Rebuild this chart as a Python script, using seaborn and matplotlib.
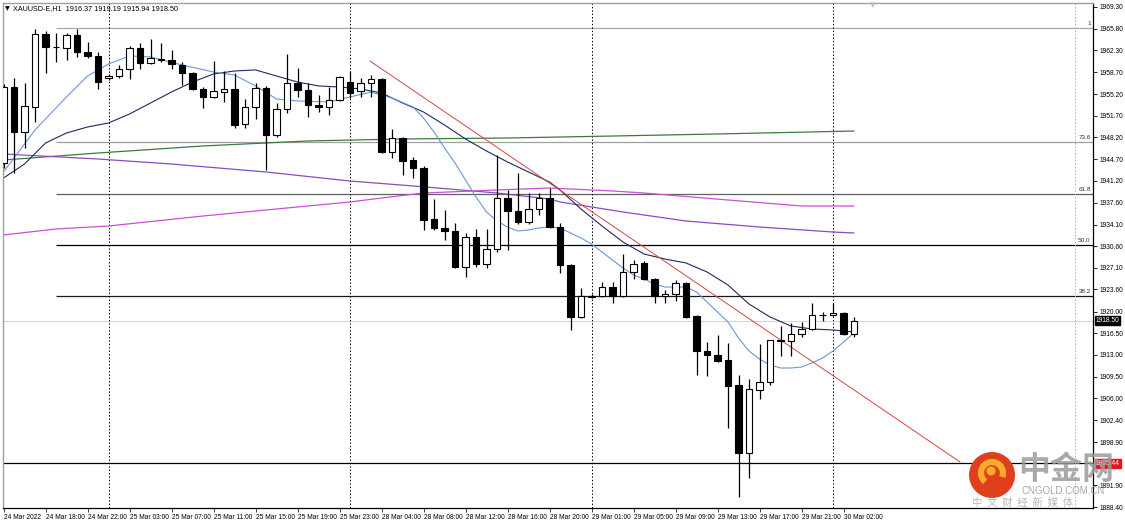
import numpy as np
import pandas as pd
import matplotlib
matplotlib.use("Agg")
import matplotlib.pyplot as plt
import seaborn as sns
from matplotlib.patches import Ellipse, Arc

# ---------------- data ----------------
bar_idx = list(range(-1, 81))
opens = [1944.06, 1956.35, 1949.07, 1953.12, 1964.93, 1962.83, 1962.66, 1964.77, 1962.02, 1961.37,
         1957.81, 1958.13, 1959.27, 1962.66, 1960.24, 1960.88, 1960.72, 1959.91, 1958.62, 1956.03,
         1954.74, 1955.54, 1956.03, 1950.37, 1953.12, 1956.19, 1948.59, 1952.79, 1957.00, 1955.87,
         1953.44, 1953.12, 1954.25, 1957.16, 1955.71, 1957.00, 1957.65, 1945.84, 1948.10, 1944.54,
         1943.25, 1935.00, 1933.54, 1933.05, 1927.23, 1932.08, 1927.71, 1930.14, 1938.39, 1936.29,
         1934.51, 1936.61, 1938.39, 1933.70, 1927.55, 1919.14, 1922.38, 1922.54, 1923.99, 1922.54,
         1926.42, 1927.88, 1925.29, 1922.54, 1922.86, 1924.64, 1919.30, 1913.64, 1912.99, 1912.18,
         1908.14, 1897.13, 1907.33, 1908.62, 1915.42, 1915.26, 1916.39, 1917.20, 1919.46, 1919.46,
         1919.79, 1916.37]
highs = [1956.84, 1957.81, 1957.00, 1965.74, 1965.41, 1965.09, 1965.09, 1965.74, 1963.63, 1962.02,
         1958.46, 1959.91, 1962.99, 1963.47, 1964.12, 1963.47, 1962.34, 1960.40, 1958.78, 1956.35,
         1960.56, 1958.94, 1958.62, 1954.41, 1957.00, 1956.52, 1953.76, 1961.69, 1959.43, 1957.00,
         1955.06, 1956.35, 1958.13, 1958.94, 1957.81, 1958.29, 1957.75, 1949.56, 1948.30, 1945.03,
         1943.57, 1938.23, 1936.45, 1934.35, 1932.73, 1933.38, 1933.38, 1945.35, 1939.69, 1942.44,
         1939.20, 1939.20, 1940.01, 1934.35, 1927.71, 1923.83, 1922.86, 1924.80, 1924.80, 1929.33,
         1928.36, 1928.20, 1925.45, 1923.51, 1925.13, 1924.80, 1919.46, 1915.09, 1916.23, 1914.93,
         1909.75, 1909.11, 1914.77, 1915.42, 1917.68, 1918.17, 1918.33, 1921.40, 1919.95, 1921.40,
         1919.95, 1919.19]
lows = [1943.25, 1942.44, 1946.48, 1950.69, 1958.62, 1960.40, 1960.72, 1961.21, 1961.05, 1956.03,
        1957.49, 1957.81, 1957.65, 1959.27, 1960.00, 1960.40, 1959.27, 1956.68, 1955.87, 1952.96,
        1954.60, 1953.93, 1949.72, 1949.72, 1951.18, 1942.92, 1948.26, 1952.15, 1954.74, 1951.50,
        1952.31, 1951.82, 1954.09, 1954.57, 1954.74, 1954.74, 1945.70, 1944.87, 1942.11, 1941.63,
        1933.22, 1933.22, 1931.60, 1927.07, 1925.61, 1927.23, 1927.07, 1929.66, 1929.98, 1934.19,
        1934.19, 1935.64, 1933.54, 1926.26, 1917.04, 1918.98, 1922.21, 1922.38, 1921.40, 1922.38,
        1925.29, 1925.13, 1921.40, 1921.40, 1921.73, 1918.98, 1909.75, 1909.59, 1911.86, 1901.18,
        1890.02, 1893.09, 1905.87, 1908.14, 1912.83, 1912.83, 1915.90, 1917.04, 1918.49, 1919.30,
        1916.23, 1915.94]
closes = [1956.35, 1949.07, 1953.28, 1964.93, 1962.83, 1962.75, 1964.77, 1962.02, 1961.37, 1957.16,
          1958.13, 1959.27, 1962.66, 1960.24, 1961.05, 1960.72, 1960.07, 1958.62, 1956.03, 1954.74,
          1955.71, 1956.03, 1950.20, 1953.12, 1956.19, 1948.59, 1952.79, 1957.00, 1955.87, 1953.44,
          1953.12, 1954.25, 1957.97, 1955.38, 1957.00, 1957.65, 1945.84, 1948.10, 1944.38, 1943.25,
          1934.83, 1933.54, 1933.05, 1927.23, 1932.08, 1927.71, 1930.14, 1938.39, 1936.29, 1934.51,
          1936.61, 1938.39, 1933.70, 1927.55, 1919.14, 1922.54, 1922.54, 1923.99, 1922.54, 1926.42,
          1927.71, 1925.29, 1922.54, 1922.86, 1924.64, 1919.14, 1913.64, 1912.99, 1912.02, 1907.98,
          1897.13, 1907.49, 1908.62, 1915.42, 1915.30, 1916.39, 1917.20, 1919.46, 1919.40, 1919.79,
          1916.39, 1918.50]

# moving averages (bar index, price)
fast_idx = [-1, 2, 5, 7, 9, 11, 13, 16, 19, 21, 23, 25, 27, 30, 32, 34, 36, 38, 39, 40,
            41, 42, 43, 44, 45, 46, 47, 48, 49, 50, 51, 52, 53, 54, 55, 56, 57, 58, 59, 60,
            61, 62, 63, 64, 65, 66, 67, 68, 69, 70, 71, 72, 73, 74, 75, 76, 77, 78, 79, 80]
fast_ma = [1942.60, 1949.40, 1954.74, 1958.13, 1960.07, 1961.37, 1961.21, 1959.91, 1958.78, 1958.29,
           1956.52, 1954.41, 1954.09, 1953.93, 1954.74, 1955.54, 1954.57, 1953.12, 1951.34, 1949.07,
           1946.48, 1944.06, 1941.31, 1938.56, 1936.13, 1934.67, 1933.70, 1933.05, 1933.22, 1933.54,
           1933.70, 1933.54, 1932.73, 1931.92, 1930.95, 1929.66, 1928.36, 1927.07, 1925.93, 1925.29,
           1924.48, 1923.99, 1923.99, 1923.99, 1923.18, 1921.57, 1919.95, 1918.33, 1915.74, 1913.64,
           1912.34, 1911.37, 1910.89, 1910.89, 1911.05, 1911.70, 1912.51, 1913.64, 1915.09, 1916.55]
slow_idx = [-1, 1, 3, 5, 7, 9, 11, 13, 15, 17, 19, 21, 23, 25, 27, 29, 31, 33, 35, 37,
            39, 41, 43, 45, 47, 49, 51, 52, 54, 56, 58, 60, 62, 64, 66, 68, 70, 72, 74, 76, 78, 80]
slow_ma = [1941.63, 1943.89, 1947.29, 1948.91, 1949.88, 1950.53, 1951.98, 1953.76, 1955.54, 1957.16,
           1958.46, 1958.94, 1959.11, 1958.13, 1957.16, 1956.52, 1956.35, 1956.03, 1955.38, 1953.76,
           1952.31, 1950.20, 1947.94, 1945.99, 1944.22, 1942.60, 1940.98, 1939.69, 1936.61, 1933.86,
           1931.27, 1929.33, 1928.52, 1927.88, 1926.42, 1924.32, 1921.24, 1919.14, 1917.68, 1917.20,
           1917.04, 1916.71]
green_idx = [-1, 8, 18, 28, 37, 47, 57, 67, 80]
green_ma = [1944.54, 1945.67, 1946.81, 1947.62, 1947.94, 1948.10, 1948.42, 1948.75, 1949.23]
purple_idx = [-1, 8, 15, 24, 32, 38, 46, 51, 52, 58, 64, 71, 78, 80]
purple_ma = [1945.51, 1944.70, 1943.89, 1942.60, 1941.14, 1940.34, 1939.20, 1938.23, 1937.75,
             1936.13, 1934.67, 1933.70, 1932.89, 1932.73]
magenta_idx = [-1, 4, 9, 18, 27, 32, 35, 39, 46, 51, 57, 60, 68, 75, 80]
magenta_ma = [1932.41, 1933.38, 1933.86, 1935.48, 1936.94, 1937.75, 1938.39, 1939.20, 1939.69,
              1940.01, 1939.53, 1939.20, 1938.07, 1937.10, 1937.10]

trend_idx = [33.9, 90.1]
trend_price = [1960.56, 1895.68]

fib_labels = ["1", "73.6", "61.8", "50.0", "38.2"]
fib_prices = [1965.90, 1947.45, 1939.04, 1930.79, 1922.54]
fib_start = 4
zero_level = 1895.44
bid_price = 1918.50

separator_idx = [9, 32, 55, 78]
future_separator_idx = 101

price_ticks = [1969.30, 1965.80, 1962.30, 1958.70, 1955.20, 1951.70, 1948.20, 1944.70, 1941.20,
               1937.60, 1934.10, 1930.60, 1927.10, 1923.60, 1920.00, 1916.50, 1913.00, 1909.50,
               1906.00, 1902.40, 1898.90, 1891.90, 1888.40]
time_tick_idx = [-1, 3, 7, 11, 15, 19, 23, 27, 31, 35, 39, 43, 47, 51, 55, 59, 63, 67, 71, 75, 79]
time_labels = ["24 Mar 2022", "24 Mar 18:00", "24 Mar 22:00", "25 Mar 03:00", "25 Mar 07:00",
               "25 Mar 11:00", "25 Mar 15:00", "25 Mar 19:00", "25 Mar 23:00", "28 Mar 04:00",
               "28 Mar 08:00", "28 Mar 12:00", "28 Mar 16:00", "28 Mar 20:00", "29 Mar 01:00",
               "29 Mar 05:00", "29 Mar 09:00", "29 Mar 13:00", "29 Mar 17:00", "29 Mar 21:00",
               "30 Mar 02:00"]
header = "XAUUSD-E,H1  1916.37 1919.19 1915.94 1918.50"

# ---------------- figure ----------------
sns.set_theme(style="white")
plt.rcParams['font.family'] = ['Liberation Sans', 'DejaVu Sans']

W, H = 1125, 523
fig = plt.figure(figsize=(W / 100, H / 100), dpi=100)
fig.patch.set_facecolor("white")
ax = fig.add_axes([3 / W, 1 - 508 / H, 1090 / W, 505 / H])
ax.set_facecolor("white")
ax.set_xlim(-1.048, 102.76)
ax.set_ylim(1888.24, 1969.94)

df = pd.DataFrame({"i": bar_idx, "o": opens, "h": highs, "l": lows, "c": closes})

# horizontal levels
ax.axhline(bid_price, color="#d4d4d4", lw=0.8, zorder=1)
ax.axhline(zero_level, color="black", lw=0.9, zorder=1)
fib_colors = ["#a8a8a8", "#a0a0a0", "#606060", "#000000", "#1a1a1a"]
for p, lab, col in zip(fib_prices, fib_labels, fib_colors):
    ax.hlines(p, fib_start, 102.76, color=col, lw=0.9, zorder=1)
    ax.text(102.55, p + 0.35, lab, fontsize=4.6, color="#333333", ha="right", va="bottom", zorder=6)

# period separators (dotted)
for s in separator_idx:
    ax.axvline(s, color="black", lw=0.7, ls=(0, (1.5, 2.0)), zorder=1)
ax.axvline(future_separator_idx, color="#b0b0b0", lw=0.7, ls=(0, (1.5, 2.0)), zorder=1)

# moving averages through seaborn
sns.lineplot(x=green_idx, y=green_ma, ax=ax, color="#3d7a3d", lw=0.9, estimator=None, sort=False, zorder=2)
sns.lineplot(x=purple_idx, y=purple_ma, ax=ax, color="#8a4cbf", lw=0.9, estimator=None, sort=False, zorder=2)
sns.lineplot(x=magenta_idx, y=magenta_ma, ax=ax, color="#c94fd6", lw=0.9, estimator=None, sort=False, zorder=2)
sns.lineplot(x=slow_idx, y=slow_ma, ax=ax, color="#1e2a5c", lw=0.8, estimator=None, sort=False, zorder=2)
sns.lineplot(x=fast_idx, y=fast_ma, ax=ax, color="#6b97d6", lw=0.8, estimator=None, sort=False, zorder=2)
sns.lineplot(x=trend_idx, y=trend_price, ax=ax, color="#d64545", lw=0.7, estimator=None, sort=False, zorder=2)

# candles
body_w = 0.66
up = df[df.c >= df.o]
dn = df[df.c < df.o]
ax.vlines(df.i, df.l, df.h, color="black", lw=0.9, zorder=3)
ax.bar(up.i, (up.c - up.o).clip(lower=0.05), bottom=up.o, width=body_w, color="white",
       edgecolor="black", linewidth=0.8, zorder=4)
ax.bar(dn.i, (dn.o - dn.c), bottom=dn.c, width=body_w, color="black",
       edgecolor="black", linewidth=0.8, zorder=4)

# axes styling
for side in ["left", "top"]:
    ax.spines[side].set_color("#a0a0a0")
    ax.spines[side].set_linewidth(1.0)
for side in ["right", "bottom"]:
    ax.spines[side].set_color("black")
    ax.spines[side].set_linewidth(0.9)
ax.grid(False)
ax.yaxis.tick_right()
ax.set_yticks(price_ticks)
ax.set_yticklabels([f"{p:.2f}" for p in price_ticks], fontsize=4.8, color="black")
ax.tick_params(axis="y", direction="out", length=3, width=0.6, pad=1.5, colors="black", right=True)
ax.set_xticks(time_tick_idx)
ax.set_xticklabels(time_labels, fontsize=4.8, color="black", ha="left")
ax.tick_params(axis="x", direction="out", length=3, width=0.6, pad=1.5, bottom=True)
for lbl in ax.get_xticklabels():
    lbl.set_horizontalalignment("left")
ax.set_xlabel("")
ax.set_ylabel("")

# price boxes on the axis
ax.text(103.0, bid_price, f"{bid_price:.2f}", fontsize=4.8, color="white", ha="left", va="center",
        bbox=dict(boxstyle="square,pad=0.15", fc="black", ec="black"), clip_on=False, zorder=7)
ax.text(103.0, zero_level, f"{zero_level:.2f}", fontsize=4.8, color="white", ha="left", va="center",
        bbox=dict(boxstyle="square,pad=0.15", fc="#e8141b", ec="#e8141b"), clip_on=False, zorder=7)

# header + shift marker
fig.text(5 / W, 1 - 9 / H, "▼", fontsize=4.5, color="black", va="center", ha="left",
         family=["DejaVu Sans"])
fig.text(13 / W, 1 - 9 / H, header, fontsize=5.2, color="black", va="center", ha="left")
fig.text(873 / W, 1 - 5 / H, "▼", fontsize=5, color="#b8b8b8", va="center", ha="center",
         family=["DejaVu Sans"])

# watermark
cx, cy, r = 992, 475, 23
fig.add_artist(Ellipse((cx / W, 1 - cy / H), 2 * r / W, 2 * r / H, transform=fig.transFigure,
                       fc="#df3f1c", ec="none", zorder=10))
fig.add_artist(Arc((cx / W, 1 - (cy - 2) / H), 22 / W, 22 / H, theta1=-40, theta2=250,
                   transform=fig.transFigure, color="#f7ac2a", lw=4.5, zorder=11))
fig.add_artist(Ellipse(((cx - 1) / W, 1 - (cy - 4) / H), 9 / W, 9 / H, transform=fig.transFigure,
                       fc="#f7ac2a", ec="none", zorder=11))
fig.text(1018 / W, 1 - 470 / H, "中金网", fontsize=23, fontweight="bold", color="#9b9b9b",
         alpha=0.85, va="center", ha="left", family=["Noto Sans CJK SC"], zorder=12)
fig.text(1021 / W, 1 - 491 / H, "CNGOLD.COM.CN", fontsize=7, color="#a8a8a8", va="center",
         ha="left", zorder=12)
fig.text(972 / W, 1 - 503 / H, "中  文  财  经  新  媒  体", fontsize=7.5, color="#b8b8b8", va="center",
         ha="left", family=["Noto Sans CJK SC"], zorder=12)

fig.savefig("out.png", dpi=100, facecolor="white")
